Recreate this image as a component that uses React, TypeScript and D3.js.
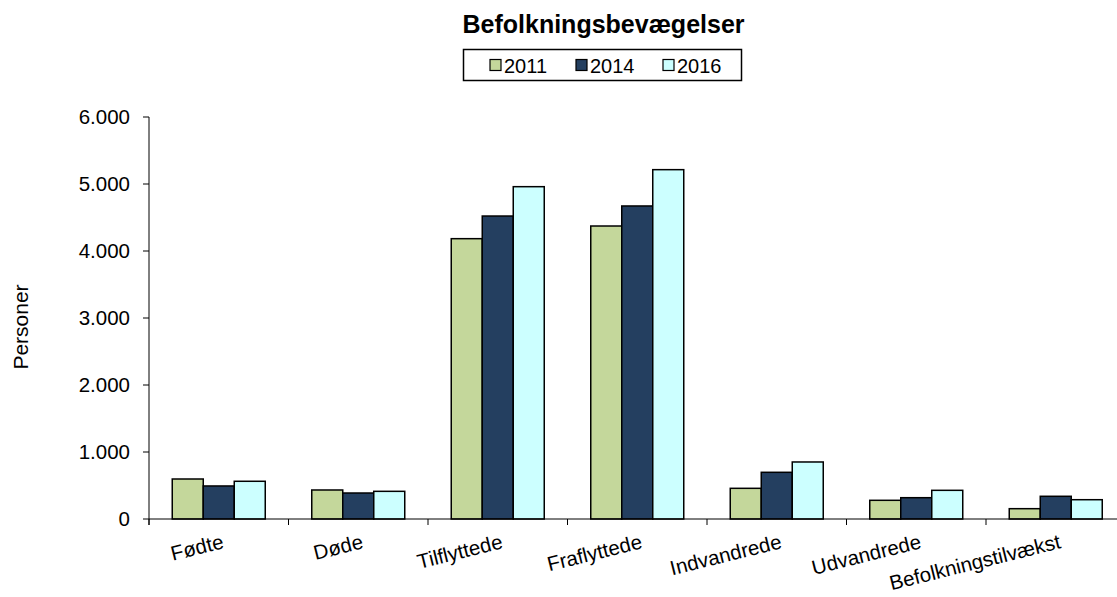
import React from "react";
import * as d3 from "d3";

const categories = ["Fødte", "Døde", "Tilflyttede", "Fraflyttede", "Indvandrede", "Udvandrede", "Befolkningstilvækst"];
const seriesNames = ["2011", "2014", "2016"];
const values2011 = [597, 433, 4184, 4373, 458, 279, 154];
const values2014 = [493, 388, 4522, 4672, 697, 318, 339];
const values2016 = [563, 413, 4960, 5214, 851, 428, 288];
const yTicks = [0, 1000, 2000, 3000, 4000, 5000, 6000];
const colors = ["#C4D79B", "#243F60", "#CCFFFF"];

const W = 1117;
const H = 597;
const left = 149;
const bandW = 139.5;
const y0 = 519;
const yTop = 117;
const FONT = "'Liberation Sans', Arial, sans-serif";

const fmt = (v: number) => (v === 0 ? "0" : d3.format(",")(v).replace(/,/g, "."));

export default function App() {
  const seriesValues = [values2011, values2014, values2016];
  const x = d3.scaleBand<string>().domain(categories).range([left, left + bandW * categories.length]).padding(0);
  const xs = d3.scaleBand<string>().domain(seriesNames).range([0, x.bandwidth()]).paddingInner(0).paddingOuter(0.75);
  const y = d3.scaleLinear().domain([0, 6000]).range([y0, yTop]);

  const legendItems = [
    { name: "2011", sx: 490, tx: 504 },
    { name: "2014", sx: 576, tx: 590 },
    { name: "2016", sx: 663, tx: 677 },
  ];

  return (
    <div style={{ position: "absolute", left: 0, top: 0 }}>
      <svg width={W} height={H} style={{ display: "block", background: "#fff" }} fontFamily={FONT}>
        <text x={603.5} y={33} textAnchor="middle" fontSize={25} fontWeight="bold" fill="#000">
          Befolkningsbevægelser
        </text>
        <rect x={463.5} y={49.5} width={278} height={31} fill="#fff" stroke="#000" strokeWidth={1.5} />
        {legendItems.map((it, i) => (
          <g key={it.name}>
            <rect x={it.sx} y={59.5} width={11} height={11} fill={colors[i]} stroke="#000" strokeWidth={1.2} />
            <text x={it.tx} y={72.5} fontSize={20} fill="#000">
              {it.name}
            </text>
          </g>
        ))}

        <text transform={`translate(28,327) rotate(-90)`} textAnchor="middle" fontSize={21} fill="#000">
          Personer
        </text>

        {/* bars */}
        {categories.map((c, ci) => (
          <g key={c}>
            {seriesNames.map((s, si) => {
              const v = seriesValues[si][ci];
              return (
                <rect
                  key={s}
                  x={(x(c) as number) + (xs(s) as number)}
                  y={y(v)}
                  width={xs.bandwidth()}
                  height={y0 - y(v)}
                  fill={colors[si]}
                  stroke="#000"
                  strokeWidth={1.5}
                />
              );
            })}
          </g>
        ))}

        {/* y axis */}
        <line x1={left} x2={left} y1={yTop} y2={y0 + 6} stroke="#000" strokeWidth={1} />
        {yTicks.map((t) => (
          <g key={t}>
            <line x1={left - 6} x2={left} y1={y(t)} y2={y(t)} stroke="#000" strokeWidth={1} />
            <text x={left - 19} y={y(t)} dy="0.36em" textAnchor="end" fontSize={20.5} fill="#000">
              {fmt(t)}
            </text>
          </g>
        ))}

        {/* x axis */}
        <line x1={left} x2={left + bandW * categories.length} y1={y0} y2={y0} stroke="#000" strokeWidth={1} />
        {categories.map((c) => (
          <line key={c} x1={x(c) as number} x2={x(c) as number} y1={y0} y2={y0 + 6} stroke="#000" strokeWidth={1} />
        ))}
        {categories.map((c) => {
          const cx = (x(c) as number) + x.bandwidth() / 2;
          return (
            <text
              key={c}
              transform={`translate(${cx + 2},${532}) rotate(-14)`}
              dy="0.8em"
              textAnchor="end"
              fontSize={20.5}
              fill="#000"
            >
              {c}
            </text>
          );
        })}
      </svg>
    </div>
  );
}
